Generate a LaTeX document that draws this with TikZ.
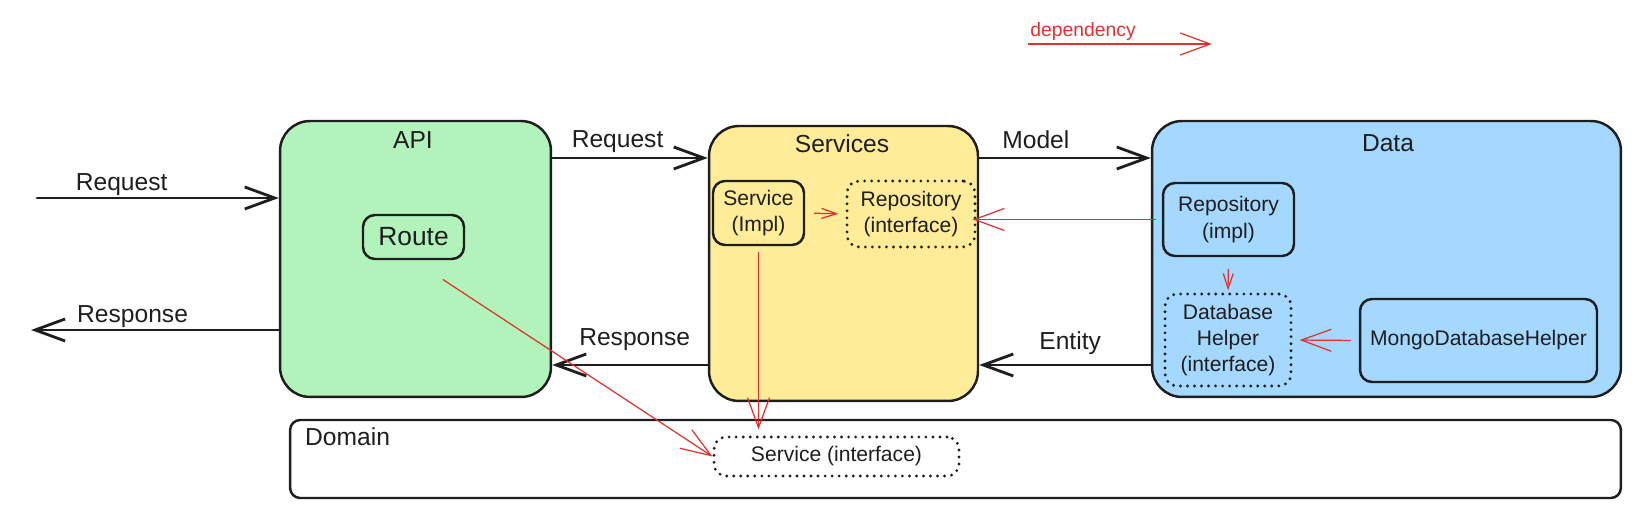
\documentclass[tikz,border=0pt]{standalone}
\usepackage{fontspec}
\setmainfont{Liberation Sans}
\usetikzlibrary{arrows.meta, positioning}

\definecolor{apigreen}{HTML}{B2F2BB}
\definecolor{svcyellow}{HTML}{FFEC99}
\definecolor{datablue}{HTML}{A5D8FF}
\definecolor{depred}{HTML}{E03131}
\definecolor{ink}{HTML}{1E1E1E}

\begin{document}
\begin{tikzpicture}[
    x=0.02cm, y=-0.02cm,
    layer/.style={draw=ink, line width=1.4pt, rounded corners=0.6cm, inner sep=0pt},
    part/.style={draw=ink, line width=1.4pt, rounded corners=0.24cm, align=center, inner sep=2pt, text=ink, font=\fontsize{12}{15}\selectfont},
    iface/.style={part, dash pattern=on 0pt off 4pt, line cap=round, line width=1.8pt},
    title/.style={font=\fontsize{14}{16}\selectfont, text=ink},
    lbl/.style={font=\fontsize{14}{16}\selectfont, text=ink, above=1pt},
    flow/.style={draw=ink, line width=1.6pt, line cap=round, -{Straight Barb[length=0.6cm, width=0.44cm]}},
    dep/.style={draw=depred, line width=0.7pt, -{Straight Barb[length=0.6cm, width=0.44cm]}},
    depsmall/.style={draw=depred, line width=0.7pt, -{Straight Barb[length=0.3cm, width=0.2cm]}}
]
\useasboundingbox (0,0) rectangle (1640,519);

% Layers
\node[layer, fill=apigreen, minimum width=5.42cm, minimum height=5.52cm] (api) at (415.5,259) {};
\node[layer, fill=svcyellow, minimum width=5.38cm, minimum height=5.5cm] (svc) at (843.5,263.5) {};
\node[layer, fill=datablue, minimum width=9.38cm, minimum height=5.52cm] (data) at (1386.5,259) {};
\node[layer, rounded corners=0.2cm, minimum width=26.62cm, minimum height=1.56cm] (domain) at (955.5,459) {};

% Titles
\node[title] (apititle) at (413,140) {API};
\node[title] (svctitle) at (842,144) {Services};
\node[title] (datatitle) at (1388,143) {Data};
\node[title, anchor=west] (domtitle) at (299,437) {Domain};

% Parts inside the layers
\node[part, font=\fontsize{15}{17}\selectfont, minimum width=2.02cm, minimum height=0.88cm] (route) at (413.5,237) {Route};
\node[part, minimum width=1.82cm, minimum height=1.28cm] (svcimpl) at (758.5,213) {Service\\(Impl)};
\node[iface, minimum width=2.56cm, minimum height=1.32cm] (repoif) at (911,214) {Repository\\(interface)};
\node[part, minimum width=2.62cm, minimum height=1.46cm] (repoimpl) at (1228.5,219.5) {Repository\\(impl)};
\node[iface, minimum width=2.52cm, minimum height=1.84cm] (dbhelper) at (1228,340) {Database\\Helper\\(interface)};
\node[part, minimum width=4.74cm, minimum height=1.66cm] (mongo) at (1478.5,340.5) {MongoDatabaseHelper};
\node[iface, minimum width=4.9cm, minimum height=0.78cm] (svcif) at (836.5,456.5) {Service (interface)};

% Request / Response flow
\coordinate (reqin) at (37,198);
\coordinate (resout) at (31,330);
\coordinate (toprow) at (0,158);
\coordinate (botrow) at (0,365);
\draw[flow] (reqin) -- (reqin -| api.west) node[lbl, above=-2.5pt, pos=0.35] {Request};
\draw[flow] (api.west |- resout) -- (resout) node[lbl, above=-2.5pt, pos=0.59] {Response};
\draw[flow] (api.east |- toprow) -- (svc.west |- toprow) node[lbl, above=-1pt, pos=0.42] {Request};
\draw[flow] (svc.west |- botrow) -- (api.east |- botrow) node[lbl, above=4pt, pos=0.47] {Response};
\draw[flow] (svc.east |- toprow) -- (data.west |- toprow) node[lbl, pos=0.33] {Model};
\draw[flow] (data.west |- botrow) -- (svc.east |- botrow) node[lbl, above=2pt, pos=0.47] {Entity};

% Dependencies
\draw[depsmall, shorten <=0.18cm, shorten >=0.14cm] (svcimpl.east) -- (repoif.west);
\draw[dep, shorten <=0.12cm, shorten >=-0.08cm] (repoimpl.west) -- (repoimpl.west -| repoif.east);
\draw[depsmall, shorten <=0.24cm, shorten >=0.04cm] (repoimpl.south) -- (dbhelper.north);
\draw[dep, shorten <=0.16cm, shorten >=0.14cm] (mongo.west) -- (dbhelper.east);
\draw[dep, shorten <=0.12cm, shorten >=0.12cm] (svcimpl.south) -- (svcimpl.south |- svcif.north);
\draw[dep, shorten <=0.7cm] (route.south) -- (svcif.west);

% Legend
\coordinate (depA) at (1028,44);
\coordinate (depB) at (1212,44);
\draw[dep] (depA) -- (depB) node[pos=0, anchor=base west, yshift=4pt, inner sep=1pt, text=depred, font=\fontsize{11}{13}\selectfont] (deplbl) {dependency};

\end{tikzpicture}
\end{document}
